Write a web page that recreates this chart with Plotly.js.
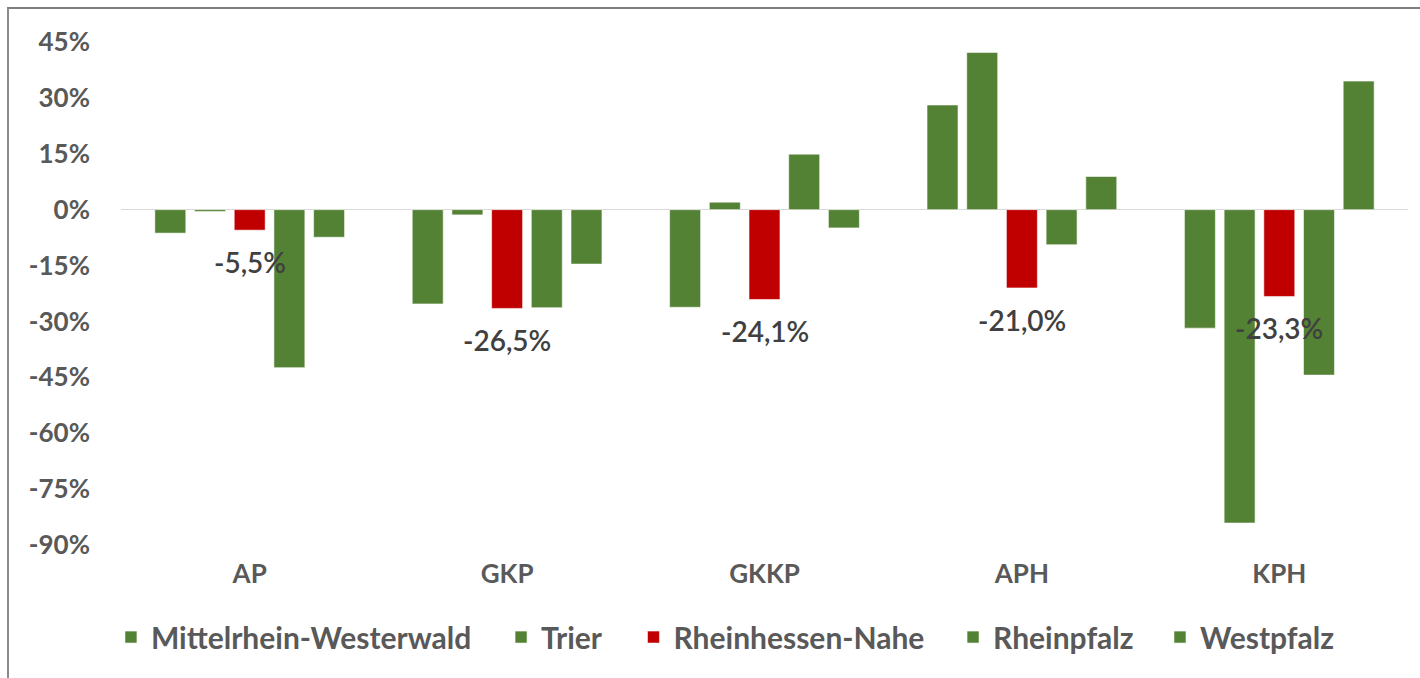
<!DOCTYPE html>
<html>
<head>
<meta charset="utf-8">
<script src="https://cdn.plot.ly/plotly-3.0.1.min.js"></script>
<style>
  html, body { margin: 0; padding: 0; background: #ffffff; }
  #chart { width: 1420px; height: 678px; position: absolute; left: 0; top: 0; }
  #frame { position: absolute; left: 7px; top: 7px; width: 1500px; height: 800px;
           border-top: 2px solid #7f7f7f; border-left: 2px solid #8c8c8c; pointer-events: none; }
</style>
</head>
<body>
<div id="chart"></div>
<div id="frame"></div>
<script>
// Categories and series values (percent change)
const categories = ["AP", "GKP", "GKKP", "APH", "KPH"];
const seriesNames = ["Mittelrhein-Westerwald", "Trier", "Rheinhessen-Nahe", "Rheinpfalz", "Westpfalz"];
const mittelrheinWesterwald = [-6.3, -25.3, -26.2, 28.1, -31.8];
const trier = [-0.5, -1.4, 2.0, 42.2, -84.1];
const rheinhessenNahe = [-5.5, -26.5, -24.1, -21.0, -23.3];
const rheinpfalz = [-42.4, -26.3, 14.9, -9.4, -44.4];
const westpfalz = [-7.4, -14.6, -4.9, 8.9, 34.5];
const yTickVals = [45, 30, 15, 0, -15, -30, -45, -60, -75, -90];
const yTickText = ["45%", "30%", "15%", "0%", "-15%", "-30%", "-45%", "-60%", "-75%", "-90%"];

const GREEN = "#548235";
const RED = "#C00000";
const seriesValues = [mittelrheinWesterwald, trier, rheinhessenNahe, rheinpfalz, westpfalz];
const seriesColors = [GREEN, GREEN, RED, GREEN, GREEN];

const FONT = "Lato, Open Sans, sans-serif";
const legendIds = ["legend", "legend2", "legend3", "legend4", "legend5"];
const legendX = [-0.0078, 0.2953, 0.3982, 0.6465, 0.8073];

const traces = seriesValues.map((vals, i) => ({
  type: "bar",
  name: seriesNames[i],
  x: categories,
  y: vals,
  legend: legendIds[i],
  marker: { color: seriesColors[i], line: { color: "rgba(255,255,255,0.55)", width: 1 } },
  hoverinfo: "x+y+name"
}));

const annotations = categories.map((c, i) => ({
  x: c, y: rheinhessenNahe[i], xref: "x", yref: "y",
  text: rheinhessenNahe[i].toFixed(1).replace(".", ",") + "%",
  showarrow: false, yanchor: "middle", xanchor: "center", yshift: -32,
  font: { family: FONT, size: 28, color: "#404040", weight: 600 }
}));

const layout = {
  width: 1420, height: 678,
  margin: { l: 121, r: 12, t: 42, b: 133 },
  paper_bgcolor: "#ffffff", plot_bgcolor: "#ffffff",
  barmode: "group", bargap: 0.229, bargroupgap: 0.22,
  showlegend: true,
  xaxis: {
    type: "category", showgrid: false, showline: false, zeroline: false, ticks: "",
    tickfont: { family: FONT, size: 26, color: "#595959", weight: 700 },
    ticklabelstandoff: 11, fixedrange: true
  },
  xaxis2: {
    overlaying: "x", anchor: "y", range: [-0.5, 4.5], tickvals: [0.5, 1.5, 2.5, 3.5],
    showgrid: true, gridcolor: "#d9d9d9", gridwidth: 1, showticklabels: false,
    showline: false, zeroline: false, ticks: "", fixedrange: true
  },
  yaxis: {
    range: [-90, 45], tickvals: yTickVals, ticktext: yTickText,
    showgrid: false, showline: false, zeroline: true, zerolinecolor: "#d9d9d9", zerolinewidth: 1.5,
    ticks: "", tickfont: { family: FONT, size: 26, color: "#595959", weight: 700 },
    ticklabelstandoff: 30, fixedrange: true
  },
  annotations: annotations
};
legendIds.forEach((id, i) => {
  layout[id] = {
    orientation: "h", x: legendX[i], xanchor: "left", y: -0.183, yanchor: "middle",
    font: { family: FONT, size: 30, color: "#595959", weight: 700 },
    bgcolor: "rgba(0,0,0,0)", itemclick: false
  };
});

Plotly.newPlot("chart", traces, layout, { displayModeBar: false, staticPlot: true });
</script>
</body>
</html>
